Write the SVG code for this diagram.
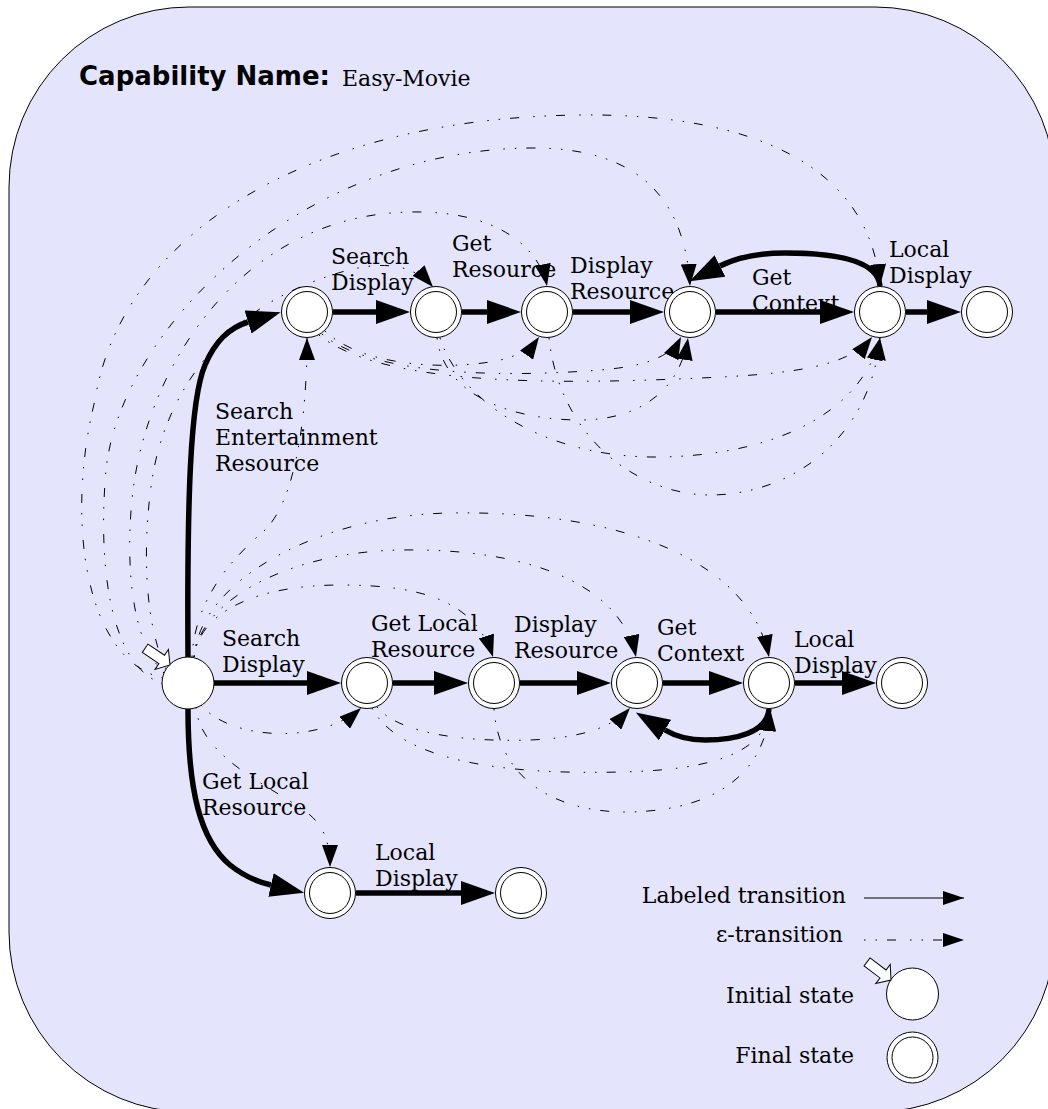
<svg xmlns="http://www.w3.org/2000/svg" width="1048" height="1109" viewBox="0 0 1048 1109">
<style>
.lbl{font-family:"DejaVu Serif","Liberation Serif",serif;font-size:22px;fill:#000}
.st{fill:#fff;stroke:#000;stroke-width:1}
.lt{fill:none;stroke:#000;stroke-width:5.5;marker-end:url(#ah)}
.ep{fill:none;stroke:#000;stroke-width:1;stroke-dasharray:1.5 10 1.5 10 9 14;marker-end:url(#eh)}
.ia{fill:#fff;stroke:#000;stroke-width:1}
</style>
<defs>
<marker id="ah" markerUnits="userSpaceOnUse" viewBox="0 0 34 24" markerWidth="34" markerHeight="24" refX="0" refY="12" orient="auto"><path d="M0,0 L34,12 L0,24 z" fill="#000"/></marker>
<marker id="eh" markerUnits="userSpaceOnUse" viewBox="0 0 22 16" markerWidth="22" markerHeight="16" refX="22" refY="8" orient="auto"><path d="M0,0 L22,8 L0,16 z" fill="#000"/></marker>
<marker id="lh" markerUnits="userSpaceOnUse" viewBox="0 0 21 14" markerWidth="21" markerHeight="14" refX="21" refY="7" orient="auto"><path d="M0,0 L21,7 L0,14 z" fill="#000"/></marker>
</defs>
<rect id="frame" x="9" y="7" width="1046" height="1105" rx="180" ry="180" fill="#e4e4fd" stroke="#000" stroke-width="1"/>
<text x="79" y="85" font-family="DejaVu Sans, Liberation Sans, sans-serif" font-weight="bold" font-size="26">Capability Name:</text>
<text class="lbl" x="342" y="86">Easy-Movie</text>

<g id="connectors">
<!-- labeled transitions -->
<path class="lt" d="M188,657 C187,500 190,400 205,365 C215,342 228,328 248,322"/>
<path class="lt" d="M333,312 H376"/>
<path class="lt" d="M462,312 H487"/>
<path class="lt" d="M573,312 H630"/>
<path class="lt" d="M716,312 H820"/>
<path class="lt" d="M880,286 C878,262 840,253 785,253 C760,253 738,257 720,266"/>
<path class="lt" d="M906,312 H927"/>
<path class="lt" d="M214,683 H307"/>
<path class="lt" d="M393,683 H434"/>
<path class="lt" d="M520,683 H577"/>
<path class="lt" d="M663,683 H709"/>
<path class="lt" d="M769,709 C767,733 735,740 705,740 C688,740 675,736 665,730"/>
<path class="lt" d="M795,683 H842"/>
<path class="lt" d="M188,709 C188,790 200,840 230,865 C245,877 258,882 271,885"/>
<path class="lt" d="M356,893 H461"/>
<!-- epsilon transitions from initial -->
<path class="ep" d="M163,678 C85,660 65,520 95,400 C120,240 300,118 580,115 C760,113 870,170 880,286"/>
<path class="ep" d="M163,684 C108,665 98,560 106,470 C120,330 300,150 530,148 C640,147 685,200 690,286"/>
<path class="ep" d="M164,673 C130,640 126,560 132,500 C144,370 240,215 410,212 C500,210 540,250 547,286"/>
<path class="ep" d="M166,669 C143,620 143,540 152,480 C164,400 215,320 310,283 C360,263 405,255 433,287"/>
<path class="ep" d="M192,657 C195,600 230,560 265,530 C295,500 307,420 307,338"/>
<path class="ep" d="M194,657 C200,610 260,585 340,585 C420,585 475,600 493,657"/>
<path class="ep" d="M194,657 C200,600 290,552 400,550 C520,548 620,580 636,657"/>
<path class="ep" d="M194,657 C200,580 320,515 450,513 C620,510 750,560 769,657"/>
<path class="ep" d="M201,705 C230,740 320,745 361,708"/>
<path class="ep" d="M196,707 C200,760 280,790 310,815 C325,828 330,845 330,867"/>
<!-- epsilon transitions row 1 -->
<path class="ep" d="M325,331 C360,365 440,370 490,362 C515,358 530,350 539,337"/>
<path class="ep" d="M322,334 C370,375 500,378 600,370 C650,366 672,355 681,337"/>
<path class="ep" d="M319,335 C380,385 550,385 700,378 C800,374 850,365 872,337"/>
<path class="ep" d="M437,338 C445,400 520,420 580,420 C640,420 680,390 688,338"/>
<path class="ep" d="M440,338 C460,400 540,455 650,457 C760,458 860,420 880,338"/>
<path class="ep" d="M549,338 C560,440 640,495 710,495 C790,495 870,440 880,338"/>
<!-- epsilon transitions row 2 -->
<path class="ep" d="M377,707 C400,735 470,742 530,740 C580,738 612,728 630,708"/>
<path class="ep" d="M372,708 C400,760 500,775 620,772 C720,770 765,750 770,709"/>
<path class="ep" d="M494,709 C500,790 570,813 630,812 C720,810 765,770 770,709"/>
<!-- labels -->
<text class="lbl"><tspan x="215" y="419">Search</tspan><tspan x="215" y="445">Entertainment</tspan><tspan x="215" y="471">Resource</tspan></text>
<text class="lbl"><tspan x="331" y="264">Search</tspan><tspan x="331" y="290">Display</tspan></text>
<text class="lbl"><tspan x="452" y="251">Get</tspan><tspan x="452" y="277">Resource</tspan></text>
<text class="lbl"><tspan x="570" y="273">Display</tspan><tspan x="570" y="299">Resource</tspan></text>
<text class="lbl"><tspan x="752" y="285">Get</tspan><tspan x="752" y="311">Context</tspan></text>
<text class="lbl"><tspan x="889" y="257">Local</tspan><tspan x="889" y="283">Display</tspan></text>
<text class="lbl"><tspan x="222" y="646">Search</tspan><tspan x="222" y="672">Display</tspan></text>
<text class="lbl"><tspan x="371" y="631">Get Local</tspan><tspan x="371" y="657">Resource</tspan></text>
<text class="lbl"><tspan x="514" y="632">Display</tspan><tspan x="514" y="658">Resource</tspan></text>
<text class="lbl"><tspan x="657" y="635">Get</tspan><tspan x="657" y="661">Context</tspan></text>
<text class="lbl"><tspan x="794" y="647">Local</tspan><tspan x="794" y="673">Display</tspan></text>
<text class="lbl"><tspan x="202" y="789">Get Local</tspan><tspan x="202" y="815">Resource</tspan></text>
<text class="lbl"><tspan x="375" y="860">Local</tspan><tspan x="375" y="886">Display</tspan></text>
</g>

<g id="s_init"><circle class="st" cx="188" cy="683" r="26"/><polygon class="ia" transform="translate(170,665) rotate(34)" points="0,0 -10,-12 -10,-5 -30,-5 -30,5 -10,5 -10,12"/></g>
<g id="s_r1a"><circle class="st" cx="307" cy="312" r="25.5"/><circle class="st" cx="307" cy="312" r="20.5"/></g>
<g id="s_r1b"><circle class="st" cx="436" cy="312" r="25.5"/><circle class="st" cx="436" cy="312" r="20.5"/></g>
<g id="s_r1c"><circle class="st" cx="547" cy="312" r="25.5"/><circle class="st" cx="547" cy="312" r="20.5"/></g>
<g id="s_r1d"><circle class="st" cx="690" cy="312" r="25.5"/><circle class="st" cx="690" cy="312" r="20.5"/></g>
<g id="s_r1e"><circle class="st" cx="880" cy="312" r="25.5"/><circle class="st" cx="880" cy="312" r="20.5"/></g>
<g id="s_r1f"><circle class="st" cx="987" cy="312" r="25.5"/><circle class="st" cx="987" cy="312" r="20.5"/></g>
<g id="s_r2a"><circle class="st" cx="367" cy="683" r="25.5"/><circle class="st" cx="367" cy="683" r="20.5"/></g>
<g id="s_r2b"><circle class="st" cx="494" cy="683" r="25.5"/><circle class="st" cx="494" cy="683" r="20.5"/></g>
<g id="s_r2c"><circle class="st" cx="637" cy="683" r="25.5"/><circle class="st" cx="637" cy="683" r="20.5"/></g>
<g id="s_r2d"><circle class="st" cx="769" cy="683" r="25.5"/><circle class="st" cx="769" cy="683" r="20.5"/></g>
<g id="s_r2e"><circle class="st" cx="902" cy="683" r="25.5"/><circle class="st" cx="902" cy="683" r="20.5"/></g>
<g id="s_r3a"><circle class="st" cx="330" cy="893" r="25.5"/><circle class="st" cx="330" cy="893" r="20.5"/></g>
<g id="s_r3b"><circle class="st" cx="521" cy="893" r="25.5"/><circle class="st" cx="521" cy="893" r="20.5"/></g>

<g id="legend">
<text class="lbl" x="846" y="903" text-anchor="end">Labeled transition</text>
<path d="M864,898 H964" fill="none" stroke="#000" stroke-width="1" marker-end="url(#lh)"/>
<text class="lbl" x="843" y="942" text-anchor="end">ε-transition</text>
<path d="M864,940 H964" fill="none" stroke="#000" stroke-width="1" stroke-dasharray="1.5 10 1.5 10 9 14" marker-end="url(#lh)"/>
<text class="lbl" x="854" y="1003" text-anchor="end">Initial state</text>
<circle class="st" cx="912.5" cy="994" r="26"/>
<polygon class="ia" transform="translate(891,980) rotate(37)" points="0,0 -10,-12 -10,-5 -30,-5 -30,5 -10,5 -10,12"/>
<text class="lbl" x="854" y="1063" text-anchor="end">Final state</text>
<circle class="st" cx="912.5" cy="1057.5" r="25.5"/><circle class="st" cx="912.5" cy="1057.5" r="20.5"/>
</g>
</svg>
